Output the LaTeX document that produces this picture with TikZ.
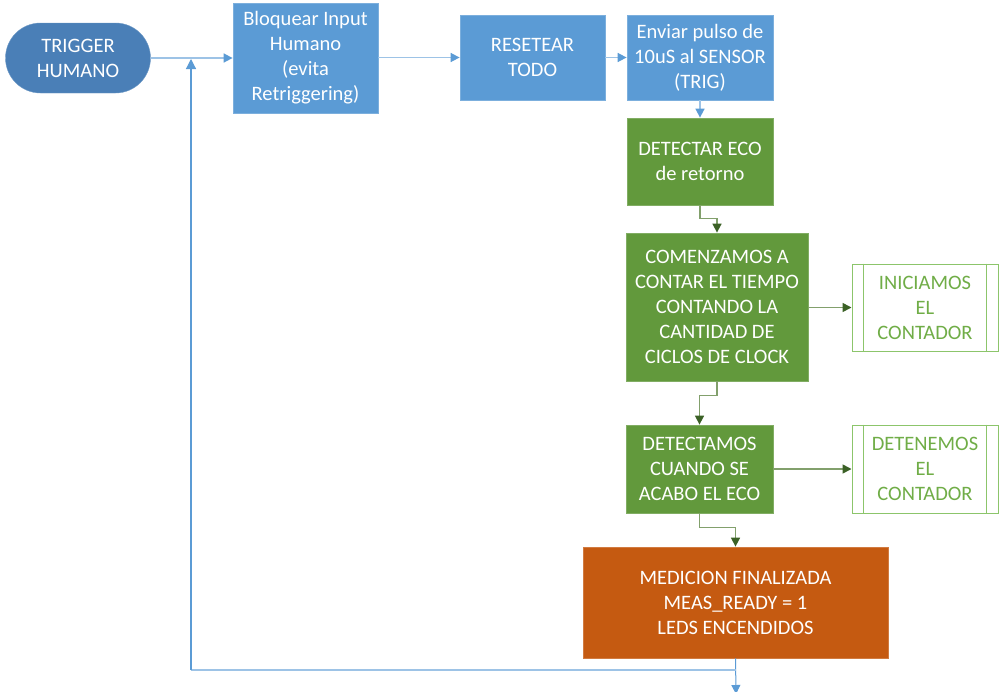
\documentclass[tikz,border=0pt]{standalone}
\usepackage{fontspec}
\setmainfont{Carlito}
\usetikzlibrary{arrows.meta,shapes.misc,calc}
\definecolor{bluebox}{HTML}{5B9BD5}
\definecolor{blueterm}{HTML}{4A7FB7}
\definecolor{blueline}{HTML}{9DC3E6}
\definecolor{greenbox}{HTML}{62993C}
\definecolor{greentext}{HTML}{70AD47}
\definecolor{greenedge}{HTML}{8CC56B}
\definecolor{greenline}{HTML}{82A06C}
\definecolor{greenarrow}{HTML}{3B6126}
\definecolor{orangebox}{HTML}{C55A11}
\begin{document}
\begin{tikzpicture}[x=1pt,y=-1pt,
  txt/.style={font=\fontsize{20.5}{25}\selectfont,align=center,text=white},
  bbox/.style={txt,fill=bluebox,draw=bluebox!80!white,line width=0.8pt,inner sep=0pt},
  gbox/.style={txt,fill=greenbox,draw=greenbox!80!white,line width=0.8pt,inner sep=0pt},
  obox/.style={txt,fill=orangebox,draw=orangebox!80!white,line width=0.8pt,inner sep=0pt},
  pbox/.style={txt,text=greentext,draw=greenedge,fill=white,line width=1pt,inner sep=0pt},
  bline/.style={draw=blueline,line width=1.6pt},
  barrow/.style={bline,-{Triangle[color=bluebox,length=9pt,width=9pt]}},
  garrow/.style={draw=greenline,line width=1.6pt,-{Triangle[color=greenarrow,length=9pt,width=9pt]}}
]
\useasboundingbox (0,0) rectangle (1000,691);
\node[txt,fill=blueterm,draw=blueterm!80!white,rounded rectangle,minimum width=145pt,minimum height=70pt,inner sep=0pt] (trig) at (78,58) {TRIGGER\\HUMANO};
\node[bbox,minimum width=145pt,minimum height=110pt] (bloq) at (305.5,58) {Bloquear Input\\Humano\\(evita\\Retriggering)};
\node[bbox,minimum width=145pt,minimum height=85pt] (reset) at (532.5,57.5) {RESETEAR\\TODO};
\node[bbox,minimum width=146pt,minimum height=85pt] (env) at (700,57.5) {Enviar pulso de\\10uS al SENSOR\\(TRIG)};
\node[gbox,minimum width=146pt,minimum height=87pt] (det) at (700,161.5) {DETECTAR ECO\\de retorno};
\node[gbox,minimum width=182pt,minimum height=148pt] (com) at (717,307) {COMENZAMOS A\\CONTAR EL TIEMPO\\CONTANDO LA\\CANTIDAD DE\\CICLOS DE CLOCK};
\node[pbox,minimum width=146pt,minimum height=87pt] (ini) at (925,307.5) {INICIAMOS\\EL\\CONTADOR};
\node[gbox,minimum width=147pt,minimum height=88pt] (dtc) at (699.5,469) {DETECTAMOS\\CUANDO SE\\ACABO EL ECO};
\node[pbox,minimum width=146pt,minimum height=88pt] (den) at (925,469) {DETENEMOS\\EL\\CONTADOR};
\node[obox,minimum width=305pt,minimum height=111pt] (med) at (735.5,602.5) {MEDICION FINALIZADA\\MEAS\_READY = 1\\LEDS ENCENDIDOS};
% inner lines of predefined process
\foreach \n in {ini,den}{
  \draw[draw=greenedge,line width=1pt] ($(\n.north west)+(12,0)$) -- ($(\n.south west)+(12,0)$);
  \draw[draw=greenedge,line width=1pt] ($(\n.north east)+(-12,0)$) -- ($(\n.south east)+(-12,0)$);
}
% blue connectors
\draw[barrow] (trig.east) -- (bloq.west);
\draw[barrow] (bloq.east |- reset.west) -- (reset.west);
\draw[barrow] (reset.east) -- (env.west);
\draw[barrow] (env.south) -- (det.north);
% green connectors
\draw[garrow] (det.south) -- ++(0,13) -| (com.north);
\draw[garrow] (com.east |- ini.west) -- (ini.west);
\draw[garrow] (com.south) -- ++(0,14) -| (dtc.north);
\draw[garrow] (dtc.east |- den.west) -- (den.west);
\draw[garrow] (dtc.south) -- ++(0,14) -| (med.north);
% loop back
\coordinate (loopend) at (736,694);
\coordinate (loopcorner) at (191,670);
\coordinate (looptop) at (191,58);
\draw[draw=bluebox,line width=1pt,-{Triangle[color=bluebox,length=9pt,width=9pt]}] (med.south) -- (loopend);
\draw[bline] (med.south |- loopcorner) -- (loopcorner);
\draw[draw=bluebox,line width=1.2pt,-{Triangle[color=bluebox,length=10pt,width=10pt]}] (loopcorner) -- ($(looptop)+(0,1)$);
\end{tikzpicture}
\end{document}
